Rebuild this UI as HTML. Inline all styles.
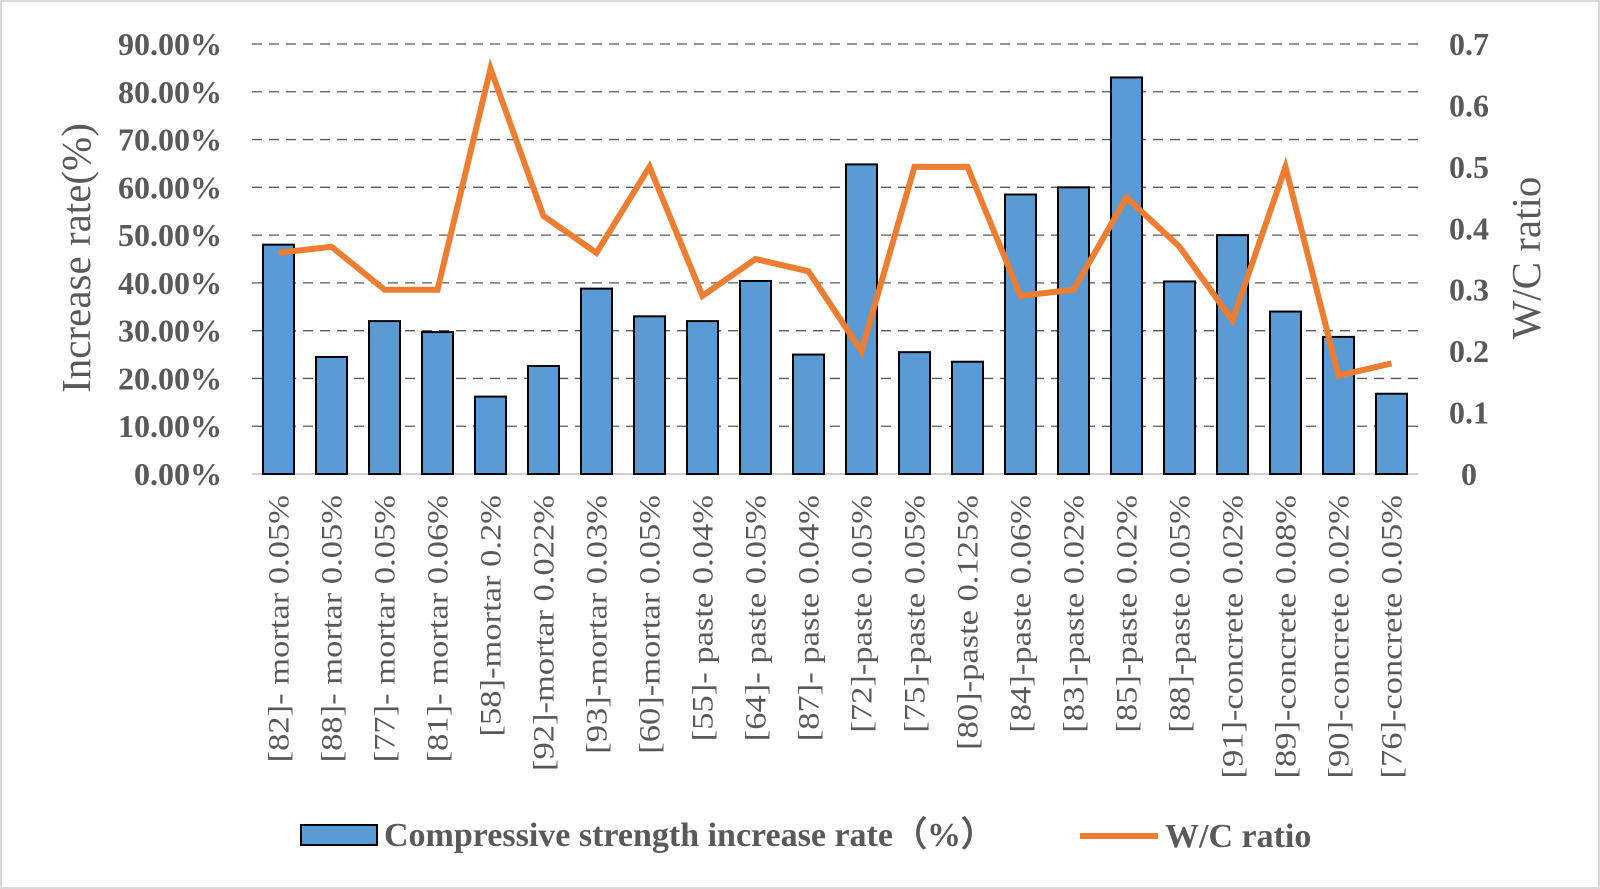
<!DOCTYPE html>
<html><head><meta charset="utf-8"><style>
html,body{margin:0;padding:0;background:#fff;}
svg{display:block;font-family:"Liberation Serif",serif;}
</style></head><body>
<svg id="chart" width="1600" height="889" viewBox="0 0 1600 889">
<rect x="1" y="1" width="1598" height="887" fill="#fff" stroke="#d9d9d9" stroke-width="2"/>
<g id="grid"></g>
<g id="bars"></g>
<g id="line"></g>
<g id="yl"></g>
<g id="yr"></g>
<g id="xl"></g>
<text x="90" y="258" transform="rotate(-90 90 258)" text-anchor="middle" font-size="41" fill="#595959">Increase rate(%)</text>
<text x="1540" y="258" transform="rotate(-90 1540 258)" text-anchor="middle" font-size="41" fill="#595959">W/C ratio</text>
<g>
<rect x="301" y="825" width="76" height="20" fill="#5b9bd5" stroke="#000" stroke-width="2"/>
<text x="384" y="846" font-size="34" font-weight="bold" fill="#595959">Compressive strength increase rate（%）</text>
<line x1="1080" y1="836" x2="1158" y2="836" stroke="#ed7d31" stroke-width="6"/>
<text x="1165" y="847" font-size="34" font-weight="bold" fill="#595959">W/C ratio</text>
</g>
</svg>
<script>
const categories=["[82]- mortar 0.05%","[88]- mortar 0.05%","[77]- mortar 0.05%","[81]- mortar 0.06%","[58]-mortar 0.2%","[92]-mortar 0.022%","[93]-mortar 0.03%","[60]-mortar 0.05%","[55]- paste 0.04%","[64]- paste 0.05%","[87]- paste 0.04%","[72]-paste 0.05%","[75]-paste 0.05%","[80]-paste 0.125%","[84]-paste 0.06%","[83]-paste 0.02%","[85]-paste 0.02%","[88]-paste 0.05%","[91]-concrete 0.02%","[89]-concrete 0.08%","[90]-concrete 0.02%","[76]-concrete 0.05%"];
const rates=[48,24.5,32,29.7,16.2,22.6,38.8,33,32,40.4,25,64.8,25.5,23.5,58.5,60,83,40.3,50,34,28.7,16.8];
const wc=[0.36,0.37,0.30,0.30,0.66,0.42,0.36,0.50,0.29,0.35,0.33,0.20,0.50,0.50,0.29,0.30,0.45,0.37,0.25,0.50,0.16,0.18];
const leftTicks=[0,10,20,30,40,50,60,70,80,90];
const rightTicks=[0,0.1,0.2,0.3,0.4,0.5,0.6,0.7];
const NS="http://www.w3.org/2000/svg";
const X0=252,X1=1418,Y0=474,Y1=44;
const step=(X1-X0)/categories.length;
const xc=i=>X0+step*(i+0.5);
const yL=v=>Y0-(v/90)*(Y0-Y1);
const yR=v=>Y0-(v/0.7)*(Y0-Y1);
function mk(tag,attrs,parent){const e=document.createElementNS(NS,tag);for(const k in attrs)e.setAttribute(k,attrs[k]);document.getElementById(parent).appendChild(e);return e;}
leftTicks.forEach(t=>{
 if(t>0){const g=mk('line',{x1:X0,x2:X1,y1:yL(t),y2:yL(t),stroke:'#595959','stroke-width':1.3,'stroke-dasharray':'10,7'},'grid');
 
 }
 const tx=mk('text',{x:222,y:yL(t)+11,'text-anchor':'end','font-size':32,'font-weight':'bold',fill:'#595959'},'yl');
 tx.textContent=t.toFixed(2)+'%';
 
 
});
const ax=mk('line',{x1:X0,x2:X1,y1:Y0,y2:Y0,stroke:'#bfbfbf','stroke-width':1.5},'grid');


rightTicks.forEach(t=>{
 const tx=mk('text',{x:1469,y:yR(t)+11,'text-anchor':'middle','font-size':32,'font-weight':'bold',fill:'#595959'},'yr');
 tx.textContent=t===0?'0':String(t);
 
 
});
const bw=31;
rates.forEach((v,i)=>{
 const r=mk('rect',{x:xc(i)-bw/2,y:yL(v),width:bw,height:Y0-yL(v),fill:'#5b9bd5',stroke:'#000','stroke-width':2},'bars');
 
 
});
const pts=wc.map((v,i)=>xc(i)+','+yR(v)).join(' ');
const pl=mk('polyline',{points:pts,fill:'none',stroke:'#ed7d31','stroke-width':6,'stroke-linejoin':'miter'},'line');


categories.forEach((c,i)=>{
 const x=xc(i)+10,y=495;
 const t=mk('text',{x:x,y:y,transform:`rotate(-90 ${x} ${y})`,'text-anchor':'end','font-size':30,fill:'#595959'},'xl');
 t.textContent=c;
 
 
 const L=t.getComputedTextLength();
 if(L>0){t.setAttribute('textLength',L*1.15);t.setAttribute('lengthAdjust','spacingAndGlyphs');}
});
</script>
</body></html>
